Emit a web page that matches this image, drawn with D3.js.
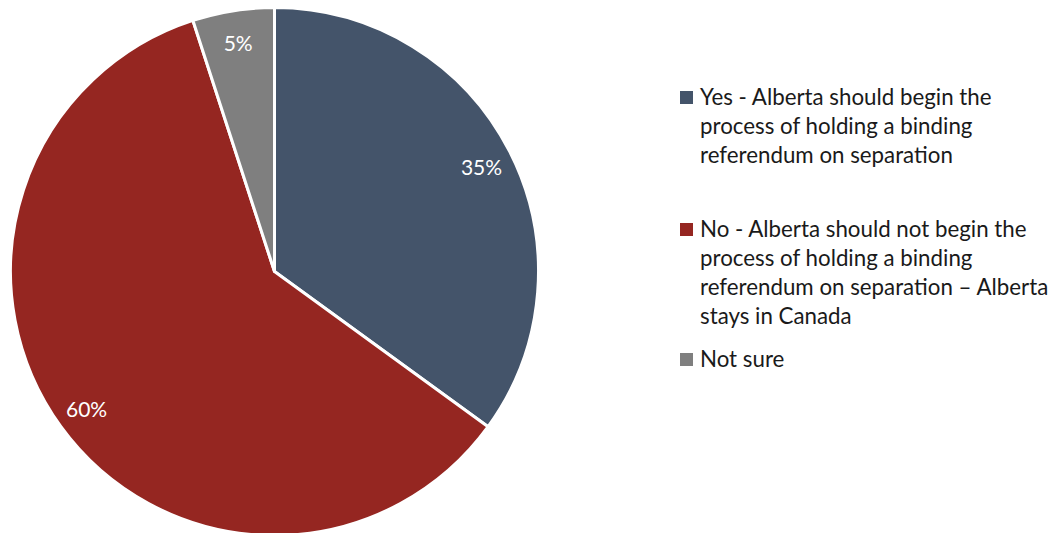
<!DOCTYPE html>
<html>
<head>
<meta charset="utf-8">
<script src="https://cdn.jsdelivr.net/npm/d3@7"></script>
<style>
  html, body { margin: 0; padding: 0; background: #fff; }
  svg { display: block; }
  text { font-family: Lato, "Open Sans", sans-serif; }
</style>
</head>
<body>
<svg id="chart" width="1057" height="533"></svg>
<script>
// Survey responses (percent)
const categories = ["Yes", "No", "Not sure"];
const values = [35, 60, 5];
const colors = ["#44546A", "#952621", "#7F7F7F"];
const legendLines = [
  ["Yes - Alberta should begin the", "process of holding a binding", "referendum on separation"],
  ["No - Alberta should not begin the", "process of holding a binding", "referendum on separation \u2013 Alberta", "stays in Canada"],
  ["Not sure"]
];

const svg = d3.select("#chart");
const cx = 274.5, cy = 271.5, radius = 264;

const data = categories.map((c, i) => ({ category: c, value: values[i], color: colors[i] }));

const pie = d3.pie().value(d => d.value).sort(null);
const arcs = pie(data);
const arc = d3.arc().innerRadius(0).outerRadius(radius);
const labelArc = d3.arc().innerRadius(radius * 0.88).outerRadius(radius * 0.88);

const g = svg.append("g").attr("transform", `translate(${cx},${cy})`);

g.selectAll("path.slice")
  .data(arcs)
  .join("path")
  .attr("class", "slice")
  .attr("d", arc)
  .attr("fill", d => d.data.color)
  .attr("stroke", "#fff")
  .attr("stroke-width", 3)
  .attr("stroke-linejoin", "round");

g.selectAll("text.pct")
  .data(arcs)
  .join("text")
  .attr("class", "pct")
  .attr("transform", d => `translate(${labelArc.centroid(d)})`)
  .attr("text-anchor", "middle")
  .attr("dominant-baseline", "central")
  .attr("fill", "#fff")
  .attr("font-size", 21)
  .text(d => d.data.value + "%");

// Legend
const legend = svg.append("g").attr("transform", "translate(680,0)");
const blockTops = [105, 237, 367];
const lineH = 29;
legendLines.forEach((lines, i) => {
  legend.append("rect")
    .attr("x", 0)
    .attr("y", blockTops[i] - 14)
    .attr("width", 13)
    .attr("height", 13)
    .attr("fill", colors[i]);
  lines.forEach((ln, j) => {
    legend.append("text")
      .attr("x", 20)
      .attr("y", blockTops[i] + j * lineH)
      .attr("font-size", 22.3)
      .attr("fill", "#1a1a1a")
      .text(ln);
  });
});
</script>
</body>
</html>
